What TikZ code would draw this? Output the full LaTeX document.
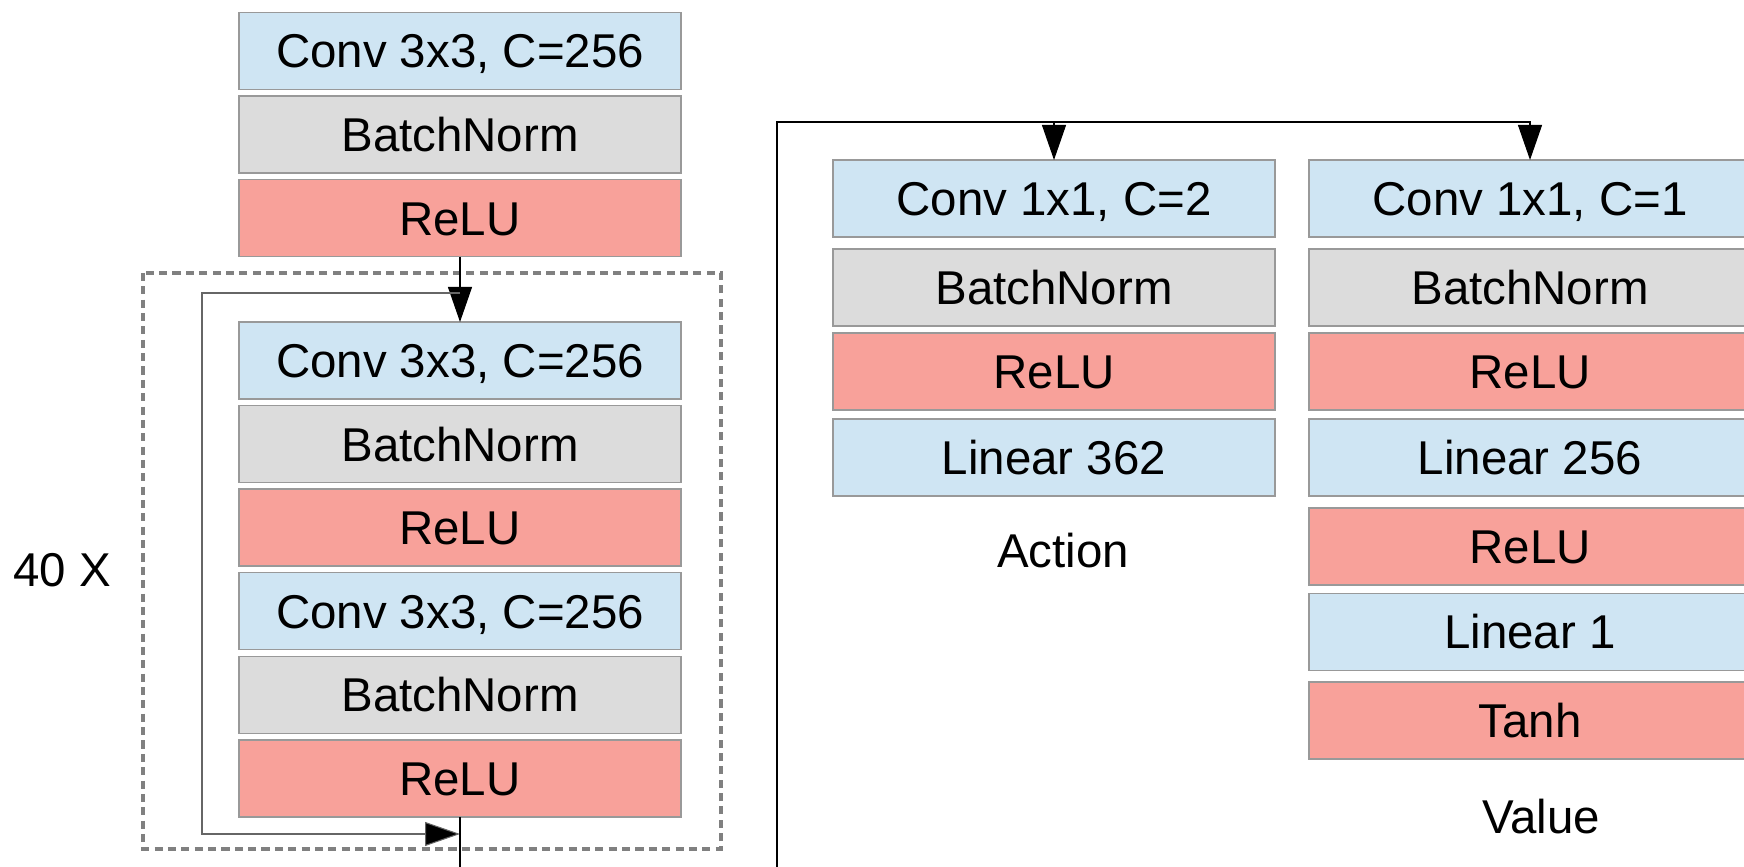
\documentclass[tikz,border=0pt]{standalone}
\usepackage{fontspec}
\setmainfont{Liberation Sans}
\usepackage{xcolor}
\usetikzlibrary{positioning, arrows.meta, calc}
\definecolor{convbg}{HTML}{CFE5F3}
\definecolor{normbg}{HTML}{DCDCDC}
\definecolor{actbg}{HTML}{F8A19A}
\definecolor{edge}{HTML}{999999}
\definecolor{dashline}{HTML}{808080}
\tikzset{
  layer/.style={
    draw=edge, line width=0.4pt,
    minimum width=4.42cm, minimum height=0.77cm,
    inner sep=0pt, outer sep=0pt, text height=0.34cm, text depth=0cm,
    font=\fontsize{13.5}{16}\selectfont
  },
  conv/.style={layer, fill=convbg},
  norm/.style={layer, fill=normbg},
  act/.style={layer, fill=actbg},
  caption/.style={inner sep=0pt, text height=0.34cm, text depth=0cm,
    font=\fontsize{13.5}{16}\selectfont},
  flow/.style={-{Triangle[length=0.35cm, width=0.24cm]}, line width=0.3pt, color=black},
  skip/.style={-{Triangle[length=0.35cm, width=0.24cm, fill=black]}, line width=0.3pt, draw=black!60},
  repeatbox/.style={draw=dashline, line width=1.1pt, dash pattern=on 2.3pt off 1.5pt}
}
\begin{document}
\begin{tikzpicture}[node distance=0.066cm]
  \clip (0,0) rectangle (17.44,-8.67);

  % Stem
  \node[conv] (conva) at (4.60,-0.51) {Conv 3x3, C=256};
  \node[norm, below=of conva] (bna) {BatchNorm};
  \node[act, below=of bna] (relua) {ReLU};

  % Residual block
  \draw[repeatbox] (1.43,-2.73) rectangle (7.21,-8.49);
  \node[caption] (times) at (0.62,-5.70) {40 X};
  \node[conv] (convb) at (4.60,-3.605) {Conv 3x3, C=256};
  \node[norm, below=of convb] (bnb) {BatchNorm};
  \node[act, below=of bnb] (relub) {ReLU};
  \node[conv, below=of relub] (convc) {Conv 3x3, C=256};
  \node[norm, below=of convc] (bnc) {BatchNorm};
  \node[act, below=of bnc] (reluc) {ReLU};

  % Policy head
  \node[conv] (pconv) at (10.54,-1.985) {Conv 1x1, C=2};
  \node[norm, below=0.12cm of pconv] (pbn) {BatchNorm};
  \node[act, below=0.07cm of pbn] (prelu) {ReLU};
  \node[conv, below=0.09cm of prelu] (plin) {Linear 362};
  \node[caption] (plbl) at ($(plin.south)+(0.09,-0.55)$) {Action};

  % Value head
  \node[conv] (vconv) at (15.30,-1.985) {Conv 1x1, C=1};
  \node[norm, below=0.12cm of vconv] (vbn) {BatchNorm};
  \node[act, below=0.07cm of vbn] (vrelu) {ReLU};
  \node[conv, below=0.09cm of vrelu] (vlin) {Linear 256};
  \node[act, below=0.12cm of vlin] (vrelub) {ReLU};
  \node[conv, below=0.085cm of vrelub] (vlinb) {Linear 1};
  \node[act, below=0.115cm of vlinb] (vtanh) {Tanh};
  \node[caption] (vlbl) at ($(vtanh.south)+(0.11,-0.57)$) {Value};

  % Connectors
  \coordinate (skipL) at (2.02,-2.93);
  \coordinate (skipLb) at (2.02,-8.34);
  \coordinate (cutL) at (4.60,-8.67);
  \coordinate (cutR) at (7.77,-8.67);
  \coordinate (trunk) at (7.77,-1.22);

  \draw[flow] (relua) -- (convb);
  \draw[skip] (relua.south |- skipL) -- (skipL) -- (skipLb) -- (reluc.south |- skipLb);
  \draw[line width=0.3pt] (reluc.south) -- (cutL);
  \draw[flow] (cutR) -- (trunk) -| (vconv.north);
  \draw[flow] (pconv.north |- trunk) -- (pconv.north);
\end{tikzpicture}
\end{document}
